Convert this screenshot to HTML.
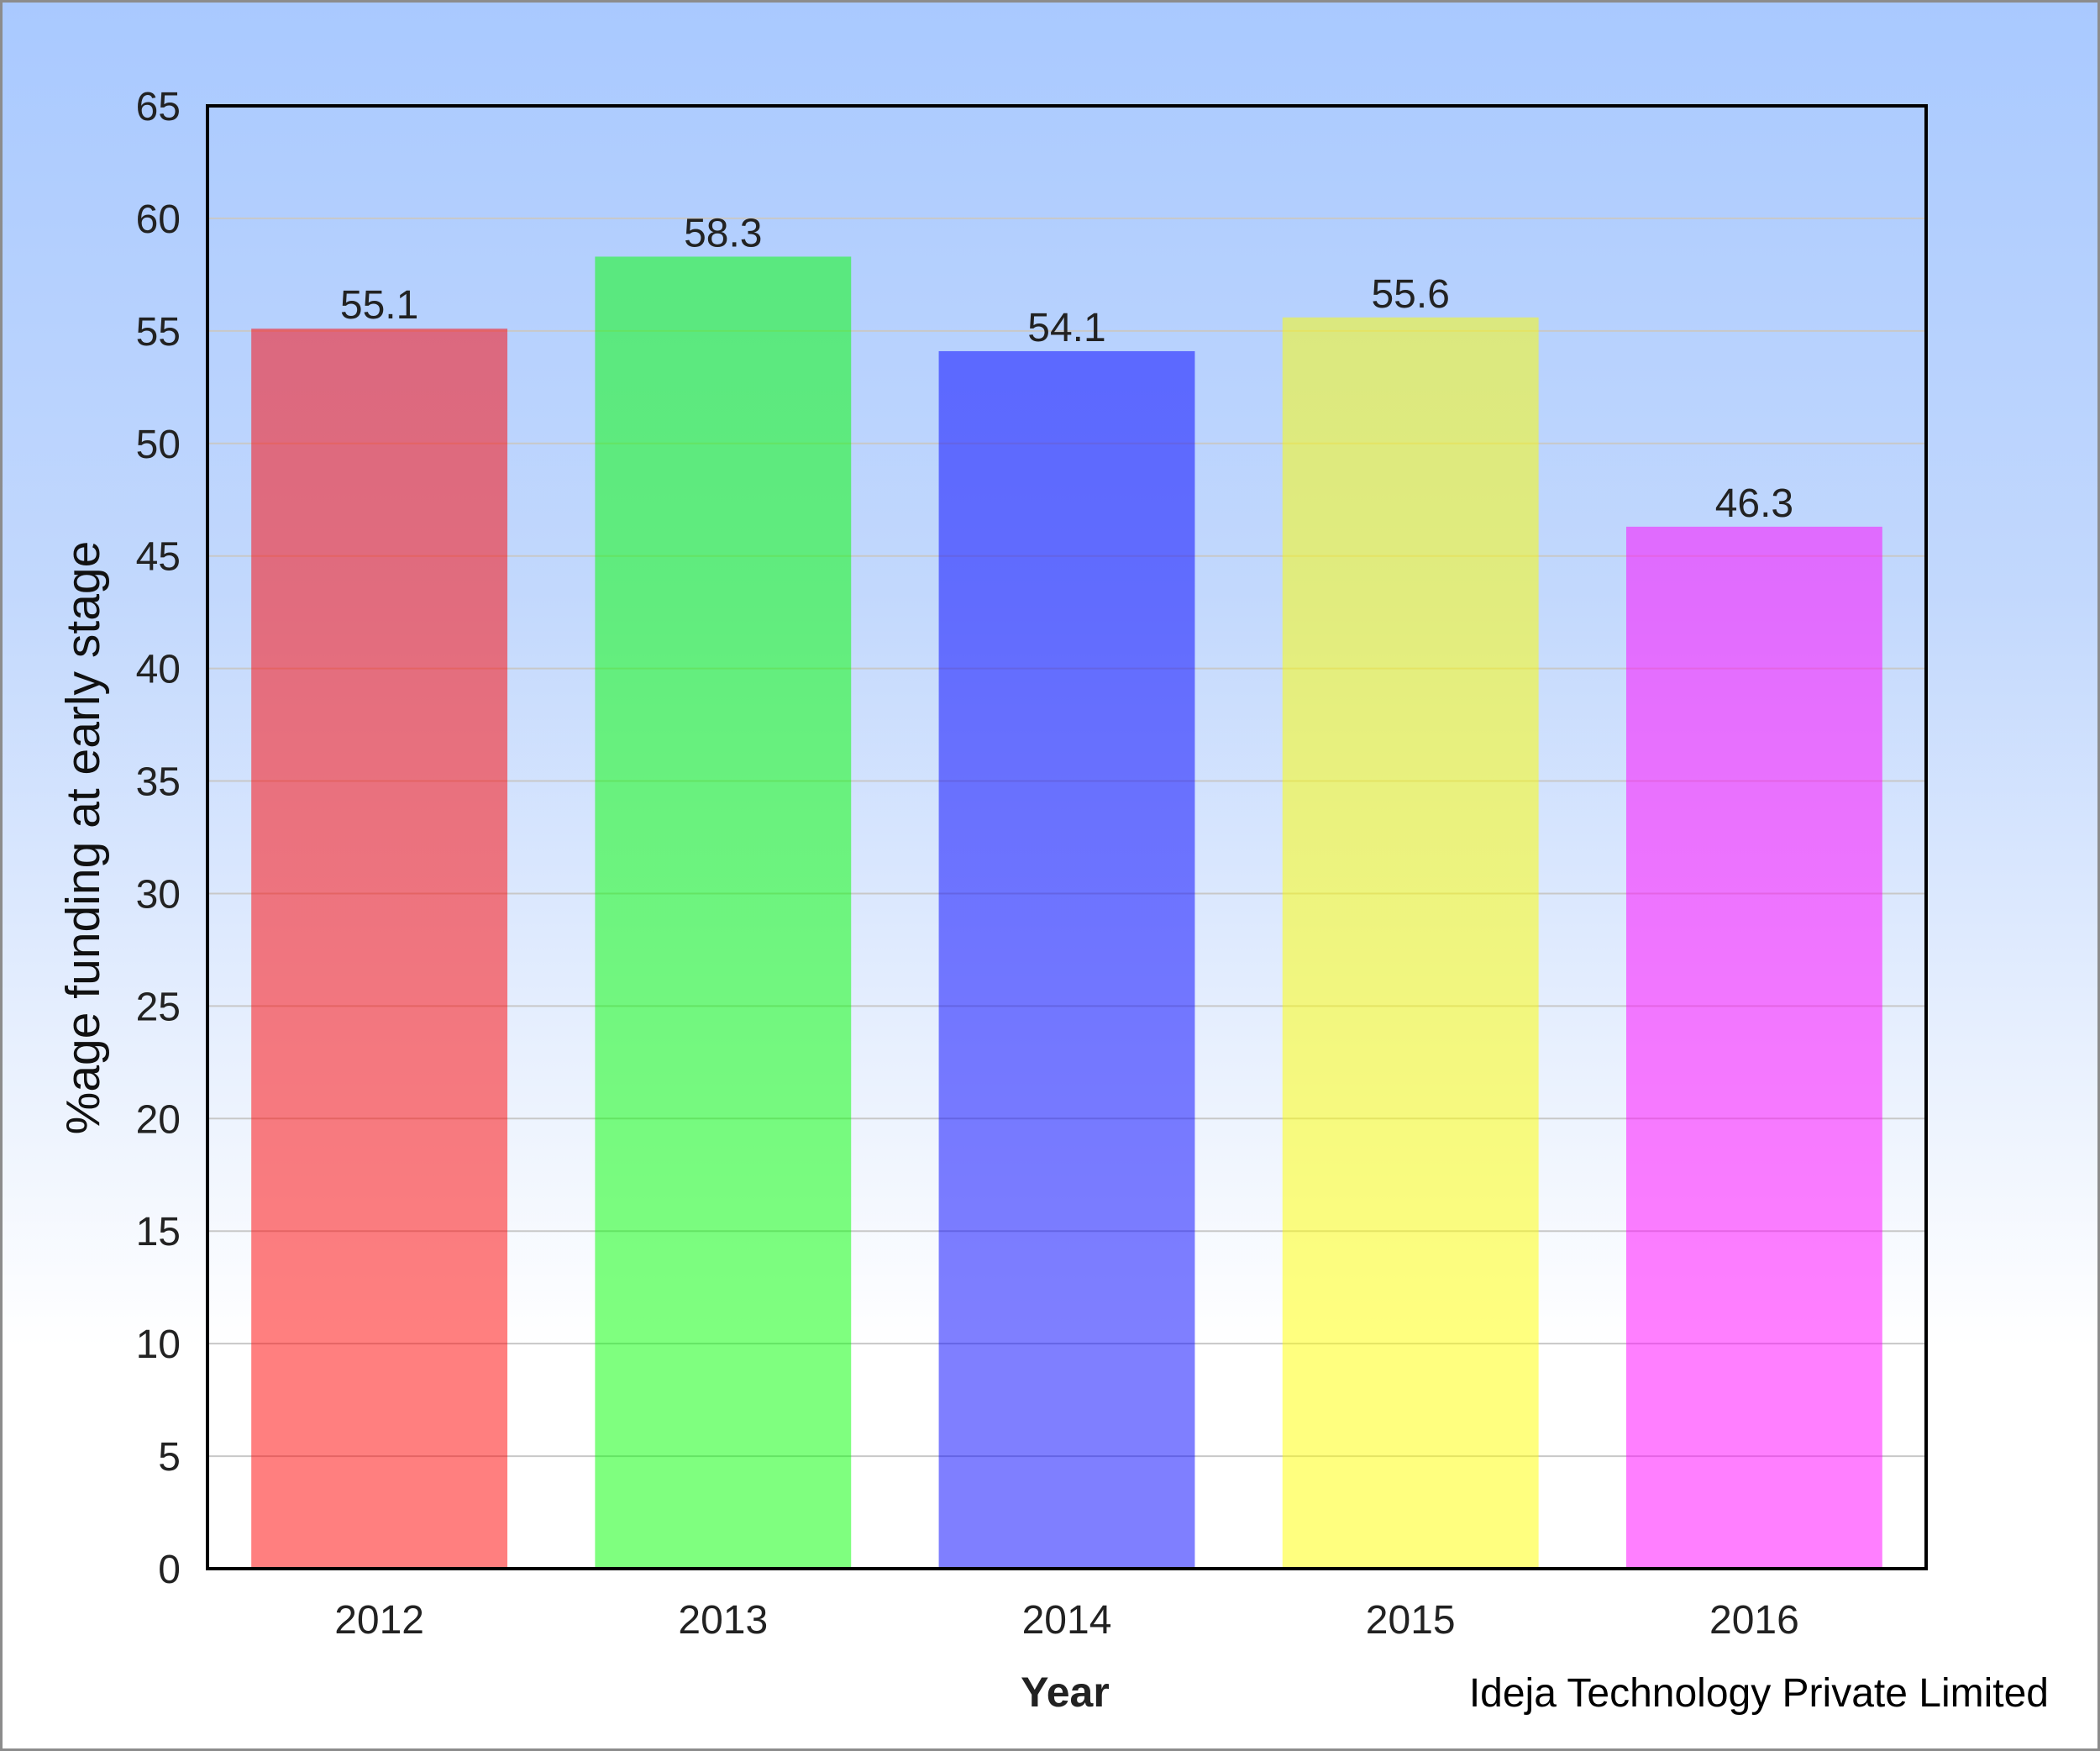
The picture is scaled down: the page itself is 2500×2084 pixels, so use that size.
<!DOCTYPE html>
<html><head><meta charset="utf-8"><style>
html,body{margin:0;padding:0}
body{width:2500px;height:2084px;overflow:hidden}
#wrap{position:absolute;left:0;top:0;width:2494px;height:2078px;border:3px solid #8c8c8c;background:linear-gradient(to bottom,#a9c9ff 0px,#c2d8fd 700px,#e8f0fe 1250px,#ffffff 1600px,#ffffff 100%)}
text{font-family:"Liberation Sans",sans-serif}
</style></head><body>
<div id="wrap"></div>
<svg id="chart" width="2500" height="2084" style="position:absolute;left:0;top:0"></svg>
<script>
const categories=["2012","2013","2014","2015","2016"];
const values=[55.1,58.3,54.1,55.6,46.3];
const valueLabels=["55.1","58.3","54.1","55.6","46.3"];
const yTicks=[0,5,10,15,20,25,30,35,40,45,50,55,60,65];
const colors=["rgba(255,0,0,0.5)","rgba(0,255,0,0.5)","rgba(0,0,255,0.5)","rgba(255,255,0,0.5)","rgba(255,0,255,0.5)"];
const L=247,R=2293,T=126,B=1867,yMax=65;
const svg=document.getElementById('chart');
const NS="http://www.w3.org/2000/svg";
function y(v){return B-(v/yMax)*(B-T);}
const band=(R-L)/categories.length;
function xc(i){return L+band*(i+0.5);}
function mk(tag,attrs,txt){const e=document.createElementNS(NS,tag);for(const k in attrs)e.setAttribute(k,attrs[k]);if(txt!==undefined)e.textContent=txt;svg.appendChild(e);return e;}
yTicks.forEach(t=>{
  if(t>0&&t<yMax){const g=mk('line',{x1:L,x2:R,y1:y(t),y2:y(t),stroke:'#c8c8c8','stroke-width':2});
  
  }
  const tl=mk('text',{x:215,y:y(t)+17,'text-anchor':'end','font-size':48,fill:'#222'},String(t));
  
  
});
const bw=band*0.745;
categories.forEach((c,i)=>{
  const r=mk('rect',{x:xc(i)-bw/2,y:y(values[i]),width:bw,height:B-y(values[i]),fill:colors[i]});
  
  
  const vl=mk('text',{x:xc(i),y:y(values[i])-12,'text-anchor':'middle','font-size':48,fill:'#222'},valueLabels[i]);
  
  
  const xl=mk('text',{x:xc(i),y:1944,'text-anchor':'middle','font-size':48,fill:'#222'},c);
  
  
});
const frame=mk('rect',{x:L,y:T,width:R-L,height:B-T,fill:'none',stroke:'#000','stroke-width':4});


const yt=mk('text',{x:0,y:0,'text-anchor':'middle','font-size':57,fill:'#111',transform:'translate(118,997) rotate(-90)'},'%age funding at early stage');


const xt=mk('text',{x:1268,y:2031,'text-anchor':'middle','font-size':50,'font-weight':'bold',fill:'#222'},'Year');


const cr=mk('text',{x:2439,y:2031,'text-anchor':'end','font-size':48,fill:'#000'},'Ideja Technology Private Limited');


</script>
</body></html>
